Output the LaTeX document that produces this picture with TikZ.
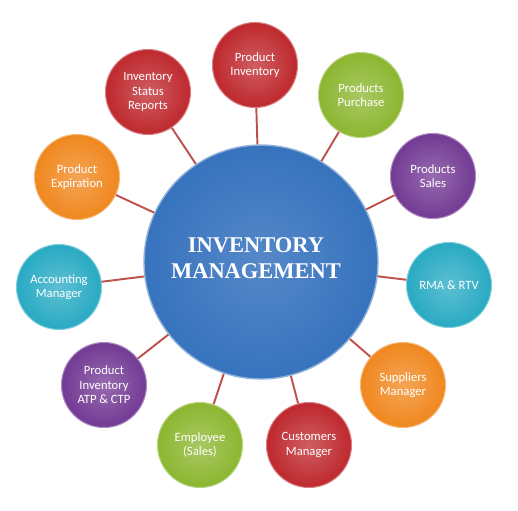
\documentclass[tikz,border=0pt]{standalone}
\usepackage{fontspec}
\setmainfont{Carlito}
\newfontfamily\hubfont{Liberation Serif}

\definecolor{invred}{RGB}{190,40,45}
\definecolor{invgreen}{RGB}{140,182,48}
\definecolor{invpurple}{RGB}{115,58,148}
\definecolor{invteal}{RGB}{40,170,195}
\definecolor{invorange}{RGB}{240,135,30}
\definecolor{invblue}{RGB}{55,115,190}
\definecolor{spoke}{RGB}{192,80,77}

\tikzset{
  bubble/.style={circle, minimum size=1.7cm, inner sep=0pt, align=center,
    text=white, font=\fontsize{7.2}{8.2}\selectfont,
    inner color=#1!75!white, outer color=#1, draw=#1!60!white, line width=0.6pt},
  hub/.style={circle, minimum size=4.68cm, inner sep=0pt,
    inner color=invblue!85!white, outer color=invblue, draw=invblue!55!white, line width=0.8pt},
  link/.style={spoke, line width=1.1pt}
}

\begin{document}
\begin{tikzpicture}[x=0.02cm,y=-0.02cm]
\useasboundingbox (0,0) rectangle (518,511);

% centre
\node [hub] (hub) at (261,262) {};
\node [text=white, font=\hubfont\bfseries\fontsize{12.8}{14.5}\selectfont, align=center] (title) at (256,258) {INVENTORY\\MANAGEMENT};

% ring of topics
\node [bubble=invred] (prodinv) at (255,65) {Product\\Inventory};
\node [bubble=invgreen] (purchase) at (361,95) {Products\\Purchase};
\node [bubble=invpurple] (sales) at (433,176) {Products\\Sales};
\node [bubble=invteal] (rma) at (449,285) {RMA \& RTV};
\node [bubble=invorange] (suppliers) at (403,385) {Suppliers\\Manager};
\node [bubble=invred] (customers) at (309,445) {Customers\\Manager};
\node [bubble=invgreen] (employee) at (200,445) {Employee\\(Sales)};
\node [bubble=invpurple] (atp) at (104,385) {Product\\Inventory\\ATP \& CTP};
\node [bubble=invteal] (accounting) at (59,287) {Accounting\\Manager};
\node [bubble=invorange] (expiration) at (77,177) {Product\\Expiration};
\node [bubble=invred] (status) at (148,92) {Inventory\\Status\\Reports};

% spokes
\foreach \n in {prodinv,purchase,sales,rma,suppliers,customers,employee,atp,accounting,expiration,status}
  \draw [link] (hub) -- (\n);
\end{tikzpicture}
\end{document}
